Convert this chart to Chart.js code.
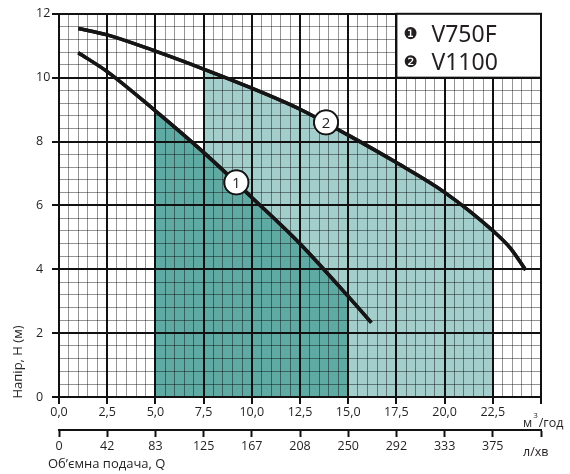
<!DOCTYPE html>
<html>
<head>
<meta charset="utf-8">
<script src="https://cdn.jsdelivr.net/npm/chart.js@4/dist/chart.umd.min.js"></script>
<style>
  html, body { margin: 0; padding: 0; background: #fff; }
  #wrap { width: 570px; height: 474px; position: relative; }
</style>
</head>
<body>
<div id="wrap"><canvas id="chart"></canvas></div>
<script>
// tick labels
const flowTickLabels = ['0,0', '2,5', '5,0', '7,5', '10,0', '12,5', '15,0', '17,5', '20,0', '22,5', ''];
const lpmTickLabels = ['0', '42', '83', '125', '167', '208', '250', '292', '333', '375', ''];
const headTickLabels = ['0', '2', '4', '6', '8', '10', '12'];

// pump curves, Q (m3/h) -> H (m)
const q1 = [1, 2.5, 5, 7.5, 10, 12.5, 15, 16.2];
const h1 = [10.78, 10.19, 8.96, 7.66, 6.25, 4.8, 3.15, 2.33];
const q2 = [1, 2.5, 5, 7.5, 10, 12.5, 15, 17.5, 20, 22.5, 23.4, 24.2];
const h2 = [11.54, 11.34, 10.83, 10.27, 9.67, 9.01, 8.2, 7.34, 6.41, 5.21, 4.67, 3.98];

// working ranges (shaded)
const range1 = [5, 15];
const range2 = [7.5, 22.5];

// curve number markers
const markerNames = ['1', '2'];
const markerQ = [9.2, 13.85];
const markerH = [6.72, 8.6];

// legend
const legendMarks = ['\u2776', '\u2777'];
const modelNames = ['V750F', 'V1100'];

const pts = (qs, hs) => qs.map((q, i) => ({ x: q, y: hs[i] }));
const inRange = (arr, r) => arr.filter(p => p.x >= r[0] - 1e-9 && p.x <= r[1] + 1e-9);

const curve1 = pts(q1, h1);
const curve2 = pts(q2, h2);

const isMult = (v, s) => Math.abs(v / s - Math.round(v / s)) < 1e-6;
const FONT = '"Open Sans", "DejaVu Sans", sans-serif';
const INK = '#231f20';

const overlay = {
  id: 'overlay',
  afterDraw(chart) {
    const { ctx, scales } = chart;
    const x = scales.x, y = scales.y;

    // lines and markers go back on top of the grid
    chart.data.datasets.forEach((ds, i) => {
      if (ds.onTop) chart.getDatasetMeta(i).controller.draw();
    });

    ctx.save();
    // numbers in the curve markers
    const mk = chart.getDatasetMeta(4);
    ctx.fillStyle = INK;
    ctx.font = '15px ' + FONT;
    ctx.textAlign = 'center';
    ctx.textBaseline = 'middle';
    mk.data.forEach((el, i) => ctx.fillText(markerNames[i], el.x, el.y + 1));

    // legend box
    const l = x.getPixelForValue(17.5), r = x.getPixelForValue(25);
    const t = y.getPixelForValue(12), b = y.getPixelForValue(10);
    ctx.fillStyle = '#fff';
    ctx.fillRect(l, t, r - l, b - t);
    ctx.strokeStyle = '#111';
    ctx.lineWidth = 2;
    ctx.strokeRect(l, t, r - l, b - t);
    ctx.fillStyle = INK;
    ctx.textAlign = 'left';
    modelNames.forEach((name, i) => {
      const cy = t + 21 + i * 28;
      ctx.font = '16px "DejaVu Sans", sans-serif';
      ctx.fillText(legendMarks[i], l + 7, cy);
      ctx.font = '23px "Noto Sans", sans-serif';
      ctx.fillText(name, l + 35, cy + 1);
    });

    // units and axis titles
    ctx.font = '12.5px ' + FONT;
    ctx.textBaseline = 'middle';
    let ux = 523;
    ctx.fillText('м', ux, 423);
    ux += ctx.measureText('м').width + 1;
    ctx.font = '8px ' + FONT;
    ctx.fillText('3', ux, 416);
    ux += ctx.measureText('3').width + 1;
    ctx.font = '12.5px ' + FONT;
    ctx.fillText('/год', ux, 423);
    ctx.fillText('л/хв', 523, 452);
    ctx.font = '13px ' + FONT;
    ctx.fillText('Об’ємна подача, Q', 48, 464);

    ctx.translate(18, 362);
    ctx.rotate(-Math.PI / 2);
    ctx.textAlign = 'center';
    ctx.fillText('Напір, H (м)', 0, 0);
    ctx.restore();
  }
};

new Chart(document.getElementById('chart'), {
  type: 'line',
  data: {
    datasets: [
      {
        data: inRange(curve2, range2),
        borderWidth: 0, pointRadius: 0,
        backgroundColor: '#a4cecb', fill: 'origin',
        cubicInterpolationMode: 'monotone', order: 5
      },
      {
        data: inRange(curve1, range1),
        borderWidth: 0, pointRadius: 0,
        backgroundColor: '#60aaa4', fill: 'origin',
        cubicInterpolationMode: 'monotone', order: 4
      },
      {
        data: curve1, onTop: true,
        borderColor: '#151515', borderWidth: 3.5, pointRadius: 0,
        fill: false, cubicInterpolationMode: 'monotone', order: 3
      },
      {
        data: curve2, onTop: true,
        borderColor: '#151515', borderWidth: 3.5, pointRadius: 0,
        fill: false, cubicInterpolationMode: 'monotone', order: 2
      },
      {
        data: pts(markerQ, markerH), onTop: true,
        showLine: false, pointRadius: 12,
        pointBackgroundColor: '#fff', pointBorderColor: '#151515', pointBorderWidth: 1.8,
        order: 1
      }
    ]
  },
  options: {
    responsive: true,
    maintainAspectRatio: false,
    animation: false,
    events: [],
    layout: { padding: { left: 36, top: 12, right: 29, bottom: 20 } },
    plugins: { legend: { display: false }, tooltip: { enabled: false } },
    scales: {
      x: {
        type: 'linear', position: 'bottom', min: 0, max: 25,
        afterFit: s => { s.height = 33; },
        // the major grid line at 0 is the axis line
        border: { display: false },
        grid: {
          z: 1,
          color: c => isMult(c.tick.value, 2.5) ? '#111' : 'rgba(0,0,0,0.42)',
          lineWidth: c => isMult(c.tick.value, 2.5) ? 2 : 1,
          tickColor: c => isMult(c.tick.value, 2.5) ? '#111' : 'rgba(0,0,0,0)',
          tickWidth: 2, tickLength: 7
        },
        ticks: {
          stepSize: 0.5, autoSkip: false, maxRotation: 0, minRotation: 0, padding: 1,
          color: INK, font: { family: FONT, size: 12.5 },
          callback: v => isMult(v, 2.5) ? flowTickLabels[Math.round(v / 2.5)] : ''
        }
      },
      x2: {
        type: 'linear', position: 'bottom', min: 0, max: 25,
        afterFit: s => { s.height = 24; },
        border: { color: '#111', width: 2 },
        grid: { drawOnChartArea: false, tickColor: '#111', tickWidth: 2, tickLength: 7 },
        ticks: {
          stepSize: 2.5, autoSkip: false, maxRotation: 0, minRotation: 0, padding: 2,
          color: INK, font: { family: FONT, size: 12.5 },
          callback: v => lpmTickLabels[Math.round(v / 2.5)]
        }
      },
      y: {
        type: 'linear', position: 'left', min: 0, max: 12,
        afterFit: s => { s.width = 23; },
        border: { display: false },
        grid: {
          z: 1,
          color: c => isMult(c.tick.value, 2) ? '#111' : 'rgba(0,0,0,0.42)',
          lineWidth: c => isMult(c.tick.value, 2) ? 2 : 1,
          tickColor: c => isMult(c.tick.value, 2) ? '#111' : 'rgba(0,0,0,0)',
          tickWidth: 2, tickLength: 7
        },
        ticks: {
          stepSize: 0.4, autoSkip: false, crossAlign: 'far',
          color: INK, font: { family: FONT, size: 12.5 },
          callback: v => isMult(v, 2) ? headTickLabels[Math.round(v / 2)] : ''
        }
      }
    }
  },
  plugins: [overlay]
});
</script>
</body>
</html>
